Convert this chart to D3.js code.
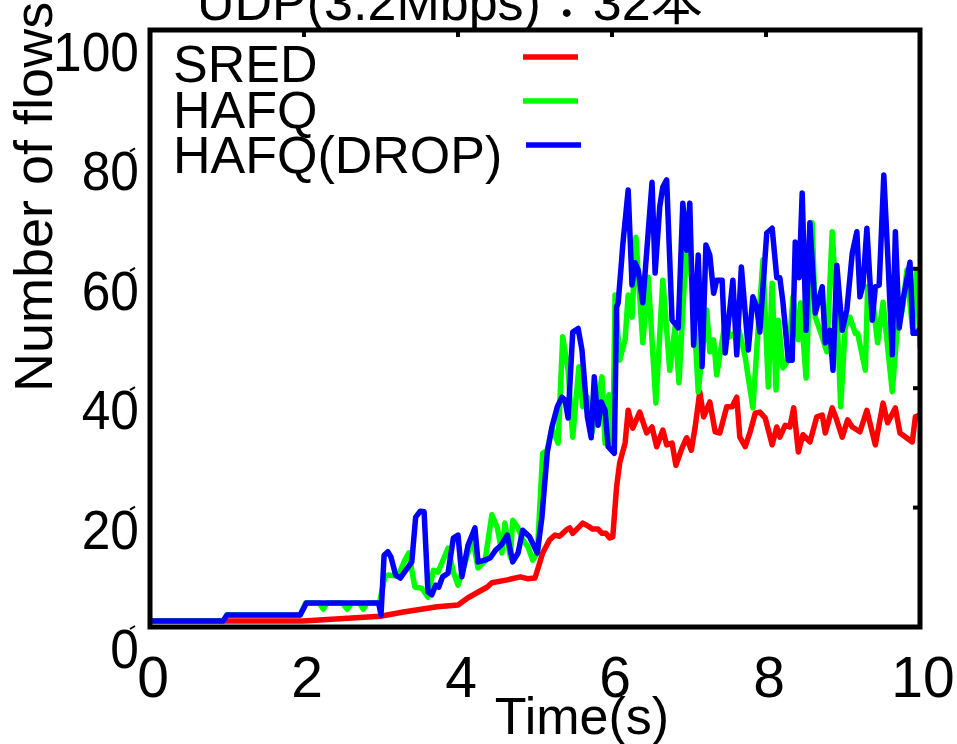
<!DOCTYPE html>
<html>
<head>
<meta charset="utf-8">
<script src="https://cdn.jsdelivr.net/npm/d3@7/dist/d3.min.js"></script>
<style>
  html, body { margin: 0; padding: 0; background: #fff; }
  svg { display: block; }
  text { font-family: "Liberation Sans", Arial, "Noto Sans CJK JP", sans-serif; fill: #000; }
</style>
</head>
<body>
<svg id="chart" width="957" height="744"></svg>
<script>
// ---------------- DATA ----------------
const titleText = "UDP(3.2Mbps)：32本";
const xLabel = "Time(s)";
const yLabel = "Number of flows";
const xTicks = [0, 2, 4, 6, 8, 10];
const yTicks = [0, 20, 40, 60, 80, 100];
const seriesNames = ["SRED", "HAFQ", "HAFQ(DROP)"];
const seriesColors = ["#ff0000", "#00ff00", "#0000ff"];

const sredTime = [0, 1.99, 2.99, 3.29, 3.73, 4.0, 4.13, 4.38, 4.44, 4.64, 4.81, 4.9, 5.0, 5.1, 5.19, 5.26, 5.32, 5.42, 5.45, 5.49, 5.56, 5.62, 5.69, 5.75, 5.82, 5.87, 5.92, 5.97, 6.01, 6.06, 6.10, 6.17, 6.21, 6.27, 6.36, 6.45, 6.52, 6.58, 6.66, 6.71, 6.78, 6.83, 6.91, 6.97, 7.03, 7.08, 7.14, 7.19, 7.27, 7.34, 7.40, 7.49, 7.56, 7.62, 7.66, 7.73, 7.79, 7.86, 7.92, 7.99, 8.08, 8.14, 8.18, 8.25, 8.31, 8.36, 8.42, 8.48, 8.57, 8.66, 8.73, 8.77, 8.86, 8.91, 8.99, 9.06, 9.12, 9.22, 9.31, 9.42, 9.52, 9.58, 9.68, 9.74, 9.90, 9.94, 10.0];
const sredFlows = [1, 1, 1.8, 2.5, 3.4, 3.7, 4.9, 6.7, 7.4, 7.9, 8.4, 8.1, 8.2, 12.4, 14.6, 15.4, 15.2, 16.4, 16.6, 15.7, 16.6, 17.4, 16.9, 16.4, 16.4, 15.7, 15.7, 14.9, 15.1, 23.5, 27.5, 30.8, 36.3, 33.3, 36, 32.5, 33.5, 30.2, 33, 30.5, 30.8, 27.1, 30, 31.7, 29.6, 33.5, 39.4, 35.2, 37.7, 32.7, 32.5, 36.9, 36.9, 38.5, 31.8, 30.2, 32.5, 35.8, 36, 35, 30.5, 33.5, 31.8, 33.8, 33.5, 36.7, 29.3, 32.2, 31, 35.2, 35.5, 32.5, 36.7, 35, 31.8, 34.7, 33.5, 32.7, 36.3, 30.5, 37.5, 34.2, 36.7, 32.5, 31, 35.2, 35.5];

const hafqTime = [0, 0.95, 1.0, 1.95, 2.02, 2.2, 2.25, 2.3, 2.5, 2.56, 2.62, 2.72, 2.77, 2.82, 2.98, 3.05, 3.09, 3.22, 3.31, 3.36, 3.44, 3.53, 3.61, 3.68, 3.74, 3.87, 3.94, 4.0, 4.09, 4.19, 4.26, 4.35, 4.44, 4.51, 4.57, 4.61, 4.68, 4.71, 4.78, 4.84, 4.91, 4.97, 5.03, 5.10, 5.16, 5.22, 5.30, 5.36, 5.43, 5.49, 5.57, 5.62, 5.68, 5.74, 5.87, 5.91, 5.96, 6.01, 6.04, 6.10, 6.17, 6.21, 6.26, 6.31, 6.40, 6.47, 6.57, 6.66, 6.75, 6.82, 6.87, 6.96, 7.04, 7.12, 7.23, 7.27, 7.32, 7.36, 7.47, 7.53, 7.65, 7.73, 7.83, 7.88, 7.96, 8.03, 8.08, 8.13, 8.16, 8.22, 8.29, 8.35, 8.42, 8.45, 8.52, 8.60, 8.64, 8.73, 8.79, 8.86, 8.92, 8.97, 9.03, 9.09, 9.16, 9.19, 9.29, 9.32, 9.39, 9.45, 9.52, 9.64, 9.70, 9.77, 9.83, 9.90, 9.96, 10.0];
const hafqFlows = [1, 1, 2, 2, 4, 4, 3, 4, 4, 3, 4, 4, 3, 4, 4, 8.4, 8.7, 8.5, 11.2, 12.4, 6.7, 6.5, 5, 9.5, 9.2, 13.2, 9.2, 7, 10.7, 14.9, 9.9, 11, 18.8, 16.7, 12.4, 17.4, 11.7, 17.9, 16.6, 14.6, 13.4, 11.2, 12.4, 29.1, 29.6, 33.3, 30.8, 48.6, 43, 31.8, 43.6, 36.9, 38.5, 32.5, 41.9, 30.8, 38.9, 29.6, 55.6, 44.7, 48.1, 55.6, 51.9, 65.3, 47.6, 58.6, 37.5, 58.1, 43, 50.3, 40.9, 62.6, 58.1, 39.4, 53.1, 46.1, 48.1, 42.2, 51.1, 48.6, 49.7, 45.2, 36.7, 46.4, 61.5, 40.2, 57.6, 39.7, 51.4, 43.4, 44.7, 55.3, 48.1, 54.3, 41.7, 67.7, 51.9, 48.6, 46.1, 66.2, 53.1, 36.9, 50.3, 51.9, 49.2, 49.2, 43, 57, 54.3, 47.6, 54.4, 39.4, 49.2, 53.1, 59.8, 50.3, 59.8, 46.9];

const dropTime = [0, 0.95, 1.0, 1.95, 2.03, 2.97, 3.0, 3.04, 3.09, 3.13, 3.19, 3.25, 3.40, 3.45, 3.51, 3.56, 3.61, 3.66, 3.71, 3.75, 3.80, 3.87, 3.94, 4.0, 4.05, 4.13, 4.22, 4.26, 4.35, 4.42, 4.49, 4.56, 4.64, 4.71, 4.78, 4.84, 4.93, 5.03, 5.09, 5.16, 5.22, 5.29, 5.35, 5.39, 5.43, 5.49, 5.56, 5.61, 5.68, 5.73, 5.77, 5.82, 5.86, 5.91, 5.95, 6.03, 6.06, 6.08, 6.12, 6.14, 6.21, 6.26, 6.30, 6.34, 6.40, 6.52, 6.56, 6.62, 6.66, 6.71, 6.78, 6.86, 6.92, 6.97, 7.01, 7.06, 7.12, 7.17, 7.22, 7.27, 7.32, 7.36, 7.43, 7.47, 7.57, 7.62, 7.68, 7.77, 7.83, 7.88, 7.92, 8.01, 8.08, 8.14, 8.18, 8.22, 8.29, 8.34, 8.38, 8.43, 8.47, 8.52, 8.57, 8.64, 8.73, 8.77, 8.83, 8.87, 8.92, 8.99, 9.05, 9.12, 9.18, 9.22, 9.26, 9.31, 9.38, 9.42, 9.47, 9.53, 9.58, 9.64, 9.68, 9.73, 9.78, 9.87, 9.91, 9.96, 10.0];
const dropFlows = [1, 1, 2, 2, 4, 4, 2, 12, 12.6, 11.7, 8.7, 8.2, 10.9, 18.4, 19.4, 19.3, 5.9, 5.4, 7, 6.7, 8.4, 9, 14.9, 15.4, 8.4, 13.7, 16.6, 10.9, 11.2, 11.6, 12.9, 13.7, 15.4, 10.9, 12.4, 16.2, 15.1, 12.4, 18.4, 29.3, 33.5, 36.9, 38.5, 38, 35, 49.4, 50, 46.4, 35.2, 31.7, 41.9, 33.8, 37.7, 36.3, 30.2, 29.1, 53.6, 54.3, 60.6, 64, 73.2, 57.3, 61, 59.8, 54.3, 74.5, 59.3, 70.4, 73.7, 74.9, 51.4, 50.1, 71, 63.1, 71, 47.2, 62.3, 43.6, 64, 62.3, 55.9, 58.1, 58.1, 45.9, 58.1, 45.6, 60.3, 46.4, 55.3, 53.6, 49.4, 66, 66.8, 58.5, 58.5, 54.4, 44.7, 44.7, 64.5, 58.5, 72.7, 49.7, 67.7, 52.6, 57, 47.6, 49.7, 43, 60.6, 49.7, 53.1, 62.6, 66.2, 55.3, 57.3, 66.8, 51.4, 57, 57.3, 75.7, 62.6, 45.6, 66.2, 50.1, 54.8, 61.1, 49.2, 49.2, 50];

// ---------------- LAYOUT ----------------
(function () {
const svg = d3.select("#chart");
const mLeft = 150, mRight = 920, mTop = 30, mBottom = 627;
const x = d3.scaleLinear().domain([0, 10]).range([mLeft, mRight]);
const y = d3.scaleLinear().domain([0, 100]).range([mBottom, mTop]);

const series = [
  { name: seriesNames[0], color: seriesColors[0], t: sredTime, v: sredFlows },
  { name: seriesNames[1], color: seriesColors[1], t: hafqTime, v: hafqFlows },
  { name: seriesNames[2], color: seriesColors[2], t: dropTime, v: dropFlows }
];

const line = d3.line().x(d => x(d[0])).y(d => y(d[1]));

svg.append("defs").append("clipPath").attr("id", "clip")
  .append("rect").attr("x", mLeft).attr("y", mTop).attr("width", mRight - mLeft).attr("height", mBottom - mTop);

const plot = svg.append("g").attr("clip-path", "url(#clip)");
series.forEach(s => {
  plot.append("path")
    .datum(s.t.map((t, i) => [t, s.v[i]]))
    .attr("d", line)
    .attr("fill", "none")
    .attr("stroke", s.color)
    .attr("stroke-width", 5.5)
    .attr("stroke-linejoin", "round")
    .attr("stroke-linecap", "round");
});

svg.append("rect")
  .attr("x", mLeft).attr("y", mTop)
  .attr("width", mRight - mLeft).attr("height", mBottom - mTop)
  .attr("fill", "none").attr("stroke", "#000").attr("stroke-width", 5);

const tickG = svg.append("g").attr("stroke", "#000").attr("stroke-width", 4);
xTicks.slice(1, -1).forEach(t => {
  tickG.append("line").attr("x1", x(t)).attr("x2", x(t)).attr("y1", mTop).attr("y2", mTop + 7);
});
yTicks.slice(1, -2).forEach(t => {
  tickG.append("line").attr("x1", mRight).attr("x2", mRight - 7).attr("y1", y(t)).attr("y2", y(t));
});

const yl = svg.append("g");
yTicks.forEach(t => {
  yl.append("text")
    .attr("transform", `translate(139,${y(t) + 41}) scale(0.92,1)`)
    .attr("text-anchor", "end")
    .attr("font-size", 56)
    .text(t);
  if (t < 100) {
    yl.append("line")
      .attr("x1", 130).attr("y1", y(t) + 2)
      .attr("x2", 135).attr("y2", y(t) - 1)
      .attr("stroke", "#000").attr("stroke-width", 2);
  }
});

xTicks.forEach(t => {
  svg.append("text")
    .attr("x", x(t) + 3).attr("y", 697)
    .attr("text-anchor", "middle")
    .attr("font-size", 57)
    .text(t);
});

svg.append("text")
  .attr("x", 582).attr("y", 734)
  .attr("text-anchor", "middle")
  .attr("font-size", 52)
  .text(xLabel);

svg.append("text")
  .attr("transform", "translate(52,392) rotate(-90)")
  .attr("text-anchor", "start")
  .attr("font-size", 54)
  .text(yLabel);

svg.append("text")
  .attr("x", 197).attr("y", 20)
  .attr("font-size", 52)
  .text(titleText);

const legendBase = [82, 128, 173];
const legendLineY = [57, 101, 145];
const legendLineX = [[523, 578], [523, 578], [526, 581]];
series.forEach((s, i) => {
  svg.append("text")
    .attr("x", 173).attr("y", legendBase[i])
    .attr("font-size", 52)
    .text(s.name);
  svg.append("line")
    .attr("x1", legendLineX[i][0]).attr("x2", legendLineX[i][1])
    .attr("y1", legendLineY[i]).attr("y2", legendLineY[i])
    .attr("stroke", s.color).attr("stroke-width", 5.5);
});
})();
</script>
</body>
</html>
